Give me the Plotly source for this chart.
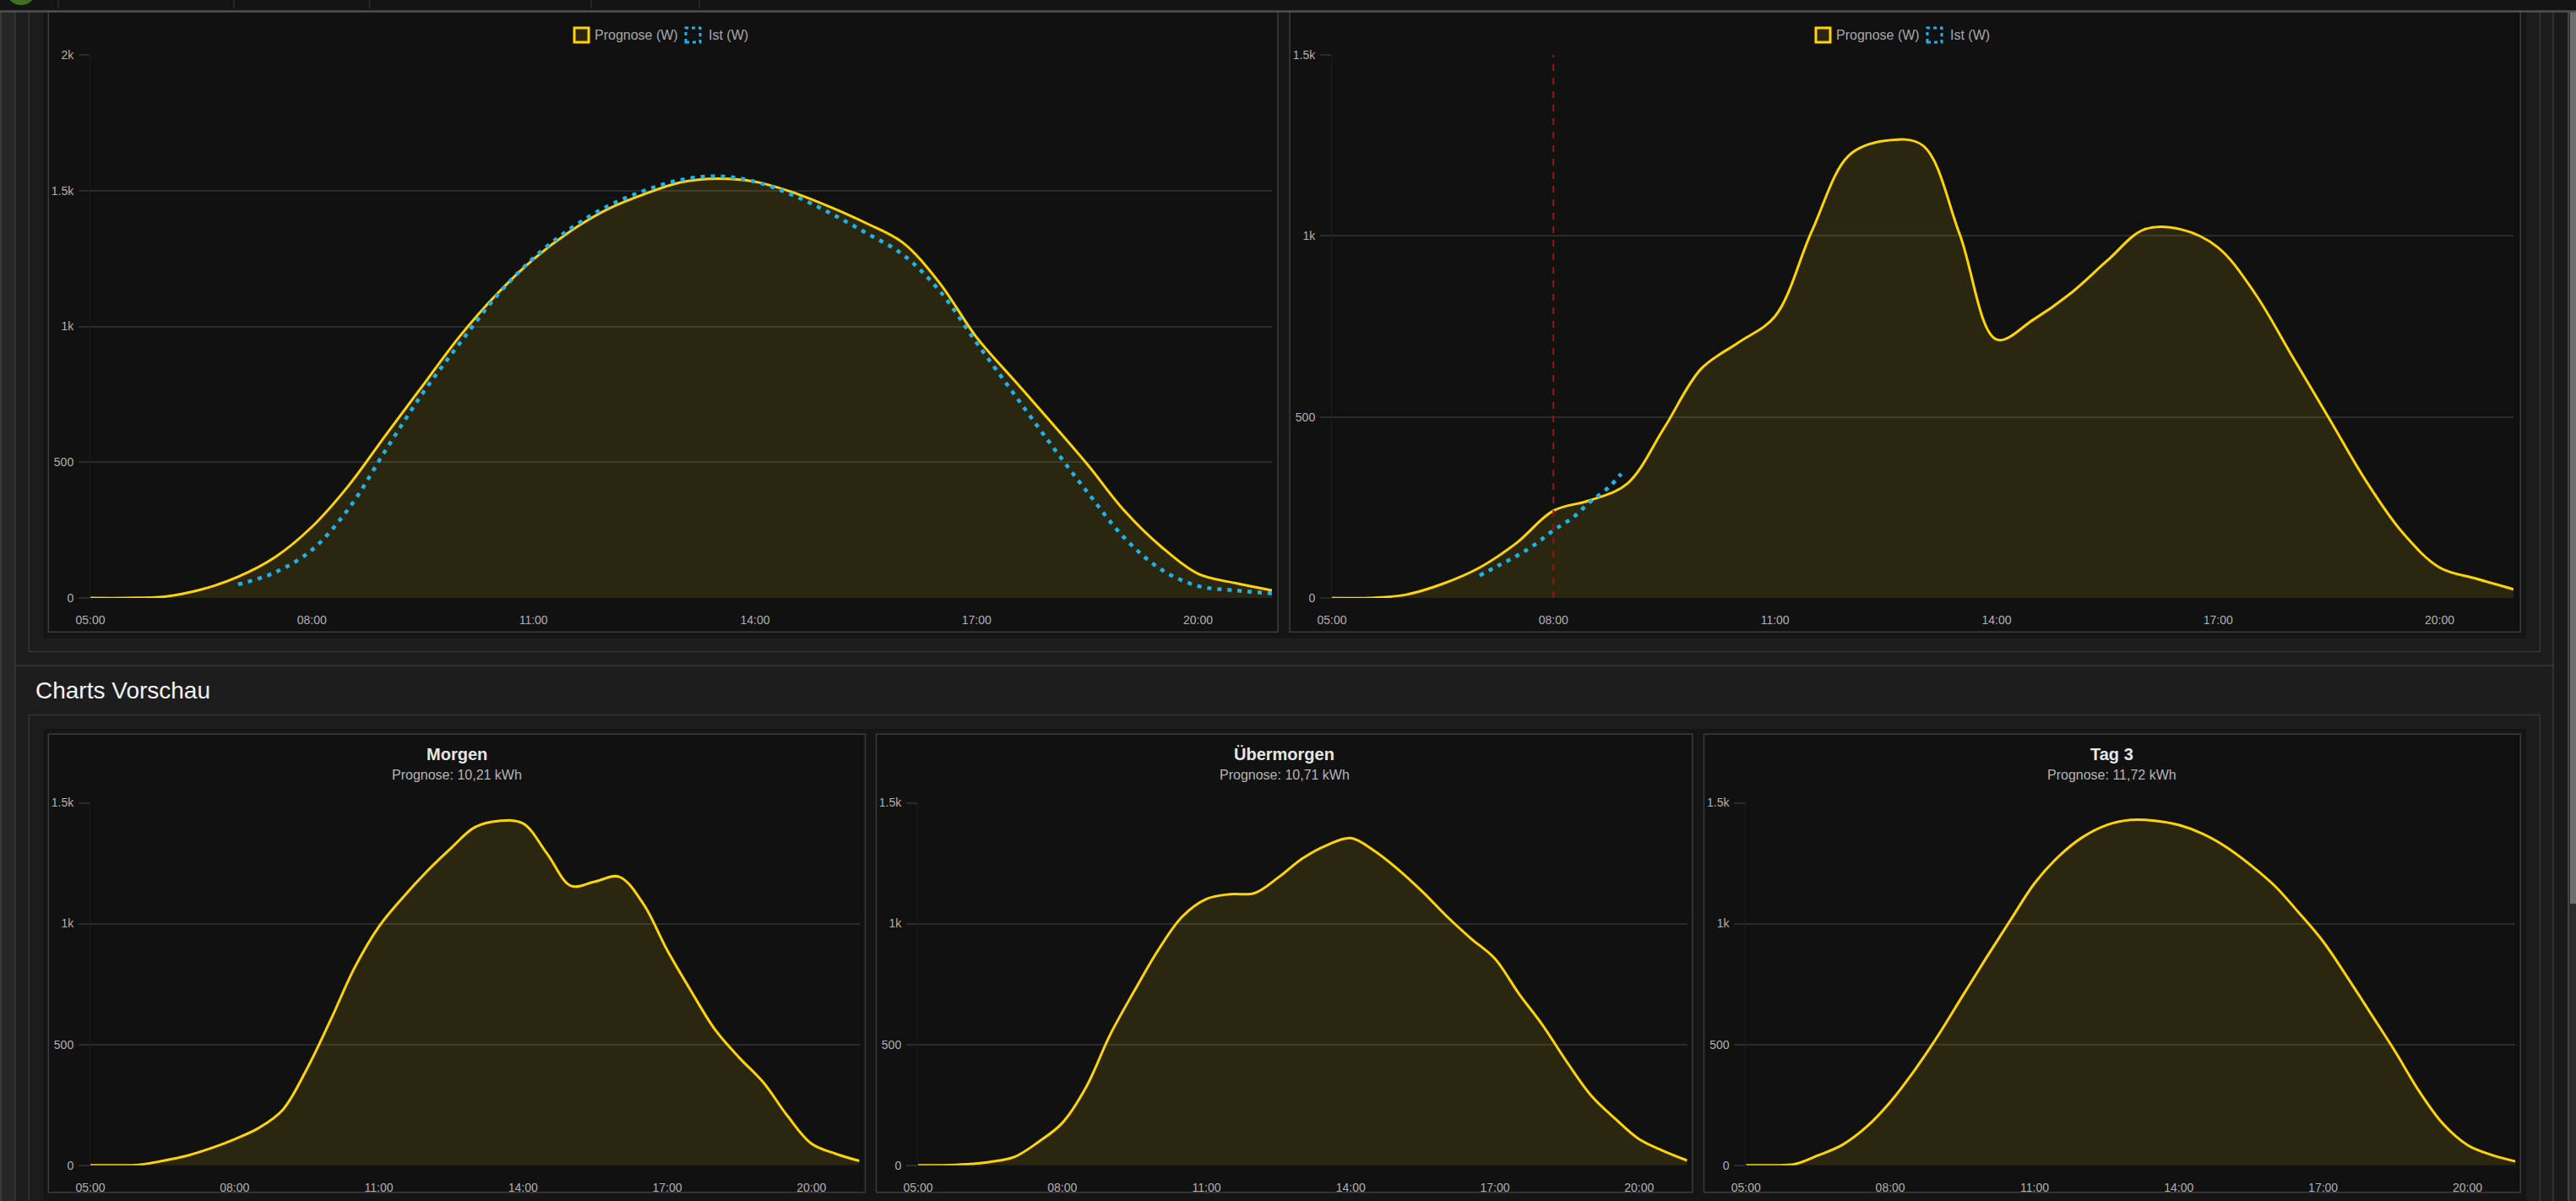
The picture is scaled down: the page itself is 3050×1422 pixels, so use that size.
import plotly.graph_objects as go

# ---------------- data ----------------
DAY = "2024-06-01 "
TIMES = ["05:00", "05:30", "06:00", "06:30", "07:00", "07:30", "08:00", "08:30",
         "09:00", "09:30", "10:00", "10:30", "11:00", "11:30", "12:00", "12:30",
         "13:00", "13:30", "14:00", "14:30", "15:00", "15:30", "16:00", "16:30",
         "17:00", "17:30", "18:00", "18:30", "19:00", "19:30", "20:00", "20:30",
         "21:00"]
X_TICKS = ["05:00", "08:00", "11:00", "14:00", "17:00", "20:00"]

# Heute (top left)
TODAY_PROGNOSE = [0, 0, 5, 31, 78, 150, 262, 415, 600, 782, 963, 1118, 1248, 1351,
                  1431, 1487, 1531, 1544, 1533, 1495, 1442, 1381, 1309, 1160, 960,
                  805, 650, 492, 322, 189, 89, 55, 28]
TODAY_IST_TIMES = TIMES[4:]
TODAY_IST = [50, 94, 177, 330, 545, 754, 937, 1112, 1252, 1360, 1442, 1500, 1540,
             1553, 1533, 1485, 1420, 1345, 1265, 1131, 940, 754, 568, 390, 222,
             105, 44, 28, 17]

# Heute live (top right)
LIVE_PROGNOSE = [0, 0, 9, 39, 84, 152, 241, 270, 316, 470, 633, 705, 778, 1014,
                 1222, 1263, 1250, 1005, 714, 769, 841, 932, 1018, 1018, 968, 841,
                 669, 497, 324, 180, 84, 53, 24]
LIVE_IST_TIMES = ["07:00", "07:15", "07:30", "07:45", "08:00", "08:15", "08:30",
                  "08:45", "08:55"]
LIVE_IST = [62, 89, 116, 148, 187, 220, 266, 306, 343]
NOW_TIME = "08:00"

# Vorschau
PREVIEW_TITLES = ["Morgen", "Übermorgen", "Tag 3"]
PREVIEW_SUBTITLES = ["Prognose: 10,21 kWh", "Prognose: 10,71 kWh", "Prognose: 11,72 kWh"]
MORGEN = [0, 0, 2, 18, 39, 70, 108, 154, 229, 397, 602, 819, 987, 1108, 1216, 1312,
          1399, 1425, 1415, 1290, 1156, 1174, 1194, 1083, 890, 720, 560, 445, 343,
          205, 90, 48, 18]
UEBERMORGEN = [0, 0, 4, 14, 34, 96, 175, 325, 542, 722, 892, 1030, 1102, 1122, 1126,
               1192, 1270, 1324, 1354, 1300, 1222, 1131, 1030, 939, 855, 710, 578,
               427, 289, 193, 108, 60, 20]
TAG3 = [0, 0, 4, 41, 84, 158, 262, 392, 539, 700, 860, 1015, 1167, 1278, 1358, 1408,
        1429, 1426, 1408, 1371, 1315, 1241, 1155, 1044, 926, 779, 625, 470, 305, 170,
        84, 43, 16]

Y_VALS_2K = [0, 500, 1000, 1500, 2000]
Y_TEXT_2K = ["0", "500", "1k", "1.5k", "2k"]
Y_VALS_15 = [0, 500, 1000, 1500]
Y_TEXT_15 = ["0", "500", "1k", "1.5k"]

LEGEND_LABELS = ["Prognose (W)", "Ist (W)"]
SECTION_TITLE = "Charts Vorschau"

# ---------------- style ----------------
W, H = 3050, 1422
FONT = "Liberation Sans, Arial, sans-serif"
YELLOW = "#ffd400"
FILL = "rgba(255,212,0,0.11)"
BLUE = "#1cb2ec"
GRID = "#2b2b2b"
TICKC = "#b0b0b0"


def fx(px):
    return px / W


def fy(py):
    return 1 - py / H


def t(s):
    return DAY + s


shapes = []
annotations = []


def rect(x0, y0, x1, y1, fill=None, line=None, lw=0, layer="below", dash=None):
    d = dict(type="rect", xref="paper", yref="paper",
             x0=fx(x0), x1=fx(x1), y0=fy(y1), y1=fy(y0),
             fillcolor=fill if fill else "rgba(0,0,0,0)",
             line=dict(color=line if line else "rgba(0,0,0,0)", width=lw),
             layer=layer)
    if dash:
        d["line"]["dash"] = dash
    shapes.append(d)


def vline(x, y0, y1, color, lw=1):
    shapes.append(dict(type="line", xref="paper", yref="paper", x0=fx(x), x1=fx(x),
                       y0=fy(y0), y1=fy(y1), line=dict(color=color, width=lw),
                       layer="below"))


def hline(y, x0, x1, color, lw=1):
    shapes.append(dict(type="line", xref="paper", yref="paper", x0=fx(x0), x1=fx(x1),
                       y0=fy(y), y1=fy(y), line=dict(color=color, width=lw),
                       layer="below"))


# page chrome
rect(0, 0, 18, H, fill="#262626")
vline(1, 14, H, "#3a3a3a", 2)
vline(18, 14, H, "#393939", 1.5)
rect(3023, 14, 3040, H, fill="#1a1a1a")
vline(3023, 14, H, "#393939", 1.5)
rect(3040, 14, W, H, fill="#2c2c2c")
vline(3041, 14, H, "#4a4a4a", 1.5)
rect(3043, 14, W, 1070, fill="#6e6e6e")

# section 1
rect(34.3, -10, 3007.3, 771.5, line="#363636", lw=1.5)
rect(51, -10, 2990.7, 756, fill="#151515")
rect(57.3, -10, 1513, 748.3, fill="#111111", line="#3c3c3c", lw=1.5)
rect(1527, -10, 2984.3, 748.3, fill="#111111", line="#3c3c3c", lw=1.5)
hline(788, 18, 3023, "#383838", 1.5)

# section 2
rect(34.3, 846.5, 3007.3, 1440, line="#363636", lw=1.5)
rect(51, 863, 2990.7, 1440, fill="#151515")
BOXES = [(57.3, 1024.5), (1037.5, 2004), (2017.5, 2984.3)]
for bx0, bx1 in BOXES:
    rect(bx0, 869.3, bx1, 1411.7, fill="#111111", line="#3c3c3c", lw=1.5)

# top bar (drawn over the scrolled-away section tops)
rect(0, -5, W, 12.5, fill="#141414")
hline(13.5, 0, W, "#505050", 2.5)
for sx in [69, 277, 437.5, 700, 828]:
    vline(sx, -2, 10, "#2c2c2c", 1.5)
shapes.append(dict(type="circle", xref="paper", yref="paper", x0=fx(7), x1=fx(43),
                   y0=fy(6), y1=fy(-30), fillcolor="#3f6f22",
                   line=dict(width=0), layer="below"))

annotations.append(dict(xref="paper", yref="paper", x=fx(40), y=fy(817),
                        xanchor="left", yanchor="middle", showarrow=False,
                        text=SECTION_TITLE,
                        font=dict(family=FONT, size=28, color="#f2f2f2")))

for (bx0, bx1), title, sub in zip(BOXES, PREVIEW_TITLES, PREVIEW_SUBTITLES):
    cx = (bx0 + bx1) / 2
    annotations.append(dict(xref="paper", yref="paper", x=fx(cx), y=fy(893),
                            xanchor="center", yanchor="middle", showarrow=False,
                            text="<b>" + title + "</b>",
                            font=dict(family=FONT, size=20, color="#e6e6e6")))
    annotations.append(dict(xref="paper", yref="paper", x=fx(cx), y=fy(917),
                            xanchor="center", yanchor="middle", showarrow=False,
                            text=sub, font=dict(family=FONT, size=16, color="#b4b4b4")))

# manual legends for the two top charts
for lx in [680, 2150]:
    rect(lx, 33, lx + 17, 50, fill="#2a2510", line=YELLOW, lw=3, layer="above")
    annotations.append(dict(xref="paper", yref="paper", x=fx(lx + 22), y=fy(42),
                            xanchor="left", yanchor="middle", showarrow=False,
                            text=LEGEND_LABELS[0],
                            font=dict(family=FONT, size=16, color="#a8a8a8")))
    bx = lx + 132
    rect(bx, 33, bx + 17, 50, line=BLUE, lw=3, layer="above", dash="4px,4px")
    annotations.append(dict(xref="paper", yref="paper", x=fx(bx + 25), y=fy(42),
                            xanchor="left", yanchor="middle", showarrow=False,
                            text=LEGEND_LABELS[1],
                            font=dict(family=FONT, size=16, color="#a8a8a8")))

# ---------------- subplots ----------------
fig = go.Figure()

PANELS = [
    # (axis id, x px range, y px range, yvals, ytext, ymax)
    ("", (107, 1506), (65, 708), Y_VALS_2K, Y_TEXT_2K, 2000),
    ("2", (1577, 2976), (65, 708), Y_VALS_15, Y_TEXT_15, 1500),
    ("3", (107, 1017.6), (950.5, 1379.7), Y_VALS_15, Y_TEXT_15, 1500),
    ("4", (1087, 1997.6), (950.5, 1379.7), Y_VALS_15, Y_TEXT_15, 1500),
    ("5", (2067.3, 2978.4), (950.5, 1379.7), Y_VALS_15, Y_TEXT_15, 1500),
]

layout_axes = {}
for aid, (x0, x1), (ytop, ybot), yv, yt, ymax in PANELS:
    layout_axes["xaxis" + aid] = dict(
        domain=[fx(x0), fx(x1)], anchor="y" + aid, type="date",
        range=[t(TIMES[0]), t(TIMES[-1])],
        tickmode="array", tickvals=[t(v) for v in X_TICKS], ticktext=X_TICKS,
        showgrid=False, zeroline=False, showline=False, ticks="",
        ticklabelstandoff=16, automargin=False,
        tickfont=dict(family=FONT, size=14, color=TICKC), fixedrange=True)
    layout_axes["yaxis" + aid] = dict(
        domain=[fy(ybot), fy(ytop)], anchor="x" + aid, range=[0, ymax],
        tickmode="array", tickvals=yv, ticktext=yt,
        showgrid=True, gridcolor=GRID, gridwidth=2, zeroline=False,
        showline=True, linecolor="#1c1c1c", linewidth=1,
        ticks="outside", ticklen=13, tickwidth=2, tickcolor=GRID,
        ticklabelstandoff=3, automargin=False,
        tickfont=dict(family=FONT, size=14, color=TICKC), fixedrange=True)


def prognose(aid, values):
    fig.add_trace(go.Scatter(
        x=[t(s) for s in TIMES], y=values, mode="lines",
        line=dict(color=YELLOW, width=3, shape="spline", smoothing=1.0),
        fill="tozeroy", fillcolor=FILL, showlegend=False,
        xaxis="x" + aid, yaxis="y" + aid, name=LEGEND_LABELS[0]))


def ist(aid, times, values):
    fig.add_trace(go.Scatter(
        x=[t(s) for s in times], y=values, mode="lines",
        line=dict(color=BLUE, width=4.5, dash="5px,7px", shape="spline", smoothing=1.0),
        showlegend=False, xaxis="x" + aid, yaxis="y" + aid, name=LEGEND_LABELS[1]))


prognose("", TODAY_PROGNOSE)
ist("", TODAY_IST_TIMES, TODAY_IST)
prognose("2", LIVE_PROGNOSE)
ist("2", LIVE_IST_TIMES, LIVE_IST)
prognose("3", MORGEN)
prognose("4", UEBERMORGEN)
prognose("5", TAG3)

# current time marker
shapes.append(dict(type="line", xref="x2", yref="y2 domain",
                   x0=t(NOW_TIME), x1=t(NOW_TIME), y0=0, y1=1,
                   line=dict(color="#9a1616", width=2, dash="8px,8px"), layer="above"))

fig.update_layout(
    width=W, height=H, autosize=False,
    margin=dict(l=0, r=0, t=0, b=0, pad=0, autoexpand=False),
    paper_bgcolor="#1d1d1d", plot_bgcolor="rgba(0,0,0,0)",
    showlegend=False, shapes=shapes, annotations=annotations,
    font=dict(family=FONT, color=TICKC), hovermode=False,
    **layout_axes)

fig.write_html("out.html", config={"displayModeBar": False, "staticPlot": True},
               post_script="document.body.style.margin='0';document.body.style.overflow='hidden';")
